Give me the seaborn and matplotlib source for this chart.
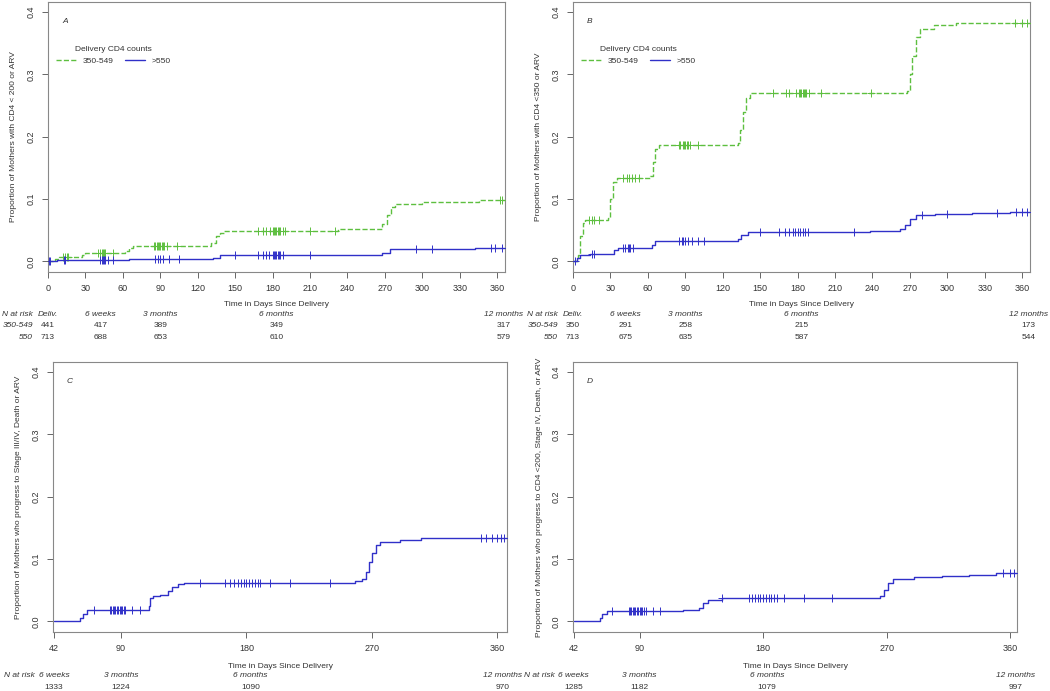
import matplotlib
matplotlib.use("Agg")
import matplotlib.pyplot as plt
import numpy as np
import pandas as pd
import seaborn as sns

GREEN = '#5dbf3f'
BLUE = '#3030c8'

# ---- panel A: CD4 < 200 or ARV ----
a_green_days = [0, 6, 9, 27, 30, 62, 65, 68, 131, 135, 138, 141, 232, 268, 272, 275, 278, 300, 345, 366]
a_green_vals = [0, 0.004, 0.007, 0.010, 0.013, 0.017, 0.021, 0.025, 0.030, 0.040, 0.046, 0.049, 0.052,
                0.060, 0.075, 0.088, 0.092, 0.096, 0.099, 0.099]
a_green_cens = [12, 14, 15, 16, 40, 42, 43, 44, 45, 46, 52, 85, 86, 87, 88, 89, 90, 91, 92, 93, 95, 103,
                168, 172, 175, 178, 180, 181, 182, 183, 184, 185, 186, 188, 190, 210, 230, 362, 364]
a_blue_days = [0, 7, 28, 65, 132, 138, 234, 268, 274, 342, 366]
a_blue_vals = [0, 0.0015, 0.0025, 0.004, 0.006, 0.0097, 0.011, 0.013, 0.0195, 0.021, 0.021]
a_blue_cens = [1, 2, 13, 14, 42, 43, 44, 45, 46, 48, 52, 86, 88, 90, 92, 97, 105, 150, 168, 172, 175,
               177, 180, 181, 182, 183, 184, 185, 186, 188, 210, 295, 308, 355, 358, 364]

# ---- panel B: CD4 < 350 or ARV ----
b_green_days = [0, 4, 6, 8, 10, 28, 30, 32, 35, 62, 64, 66, 69, 132, 134, 136, 139, 142, 268, 270, 272,
                275, 278, 289, 307, 366]
b_green_vals = [0, 0.01, 0.04, 0.062, 0.066, 0.070, 0.100, 0.128, 0.133, 0.137, 0.160, 0.180, 0.187,
                0.190, 0.210, 0.240, 0.262, 0.270, 0.273, 0.300, 0.330, 0.360, 0.372, 0.379, 0.383, 0.383]
b_green_cens = [13, 15, 17, 21, 40, 43, 45, 47, 50, 53, 85, 86, 88, 89, 90, 91, 92, 94, 100, 160, 171,
                173, 179, 181, 182, 183, 184, 185, 186, 187, 189, 199, 239, 354, 360, 364]
b_blue_days = [0, 3, 6, 14, 33, 36, 63, 66, 132, 135, 140, 238, 262, 266, 270, 275, 290, 320, 350, 366]
b_blue_vals = [0, 0.005, 0.010, 0.012, 0.018, 0.022, 0.026, 0.033, 0.036, 0.043, 0.047, 0.049, 0.052,
               0.058, 0.068, 0.074, 0.076, 0.078, 0.079, 0.079]
b_blue_cens = [2, 15, 17, 40, 42, 44, 45, 46, 48, 85, 87, 88, 90, 92, 95, 100, 105, 150, 165, 170, 173,
               176, 178, 180, 182, 184, 186, 188, 225, 280, 300, 340, 355, 360, 364]

# ---- panel C: Stage III/IV, death or ARV ----
c_days = [42, 58, 61, 63, 66, 110, 111, 113, 118, 124, 127, 131, 135, 258, 263, 266, 268, 270, 273, 276,
          290, 305, 367]
c_vals = [0, 0, 0.006, 0.012, 0.018, 0.025, 0.038, 0.041, 0.043, 0.048, 0.055, 0.060, 0.062, 0.064,
          0.068, 0.080, 0.095, 0.110, 0.122, 0.127, 0.130, 0.133, 0.133]
c_cens = [71, 82, 83, 84, 85, 86, 87, 88, 89, 90, 91, 92, 93, 98, 104, 147, 165, 168, 171, 174, 176, 178,
          180, 182, 184, 186, 188, 190, 197, 211, 240, 348, 352, 356, 360, 363, 365]

# ---- panel D: CD4 < 200, stage IV, death or ARV ----
d_days = [42, 58, 61, 63, 66, 122, 133, 136, 140, 150, 240, 265, 268, 271, 275, 290, 310, 330, 350, 365]
d_vals = [0, 0, 0.005, 0.012, 0.016, 0.018, 0.022, 0.030, 0.035, 0.037, 0.038, 0.040, 0.050, 0.062,
          0.068, 0.071, 0.073, 0.075, 0.077, 0.077]
d_cens = [70, 82, 83, 84, 85, 86, 87, 88, 89, 90, 91, 92, 93, 95, 100, 105, 150, 170, 172, 174, 176, 178,
          180, 182, 184, 186, 188, 190, 195, 210, 230, 355, 360, 363]

# ---- numbers at risk ----
ab_risk_days = [0, 42, 90, 183, 365]
ab_risk_names = ['Deliv.', '6 weeks', '3 months', '6 months', '12 months']
a_risk_green = [441, 417, 389, 349, 317]
a_risk_blue = [713, 688, 653, 610, 579]
b_risk_green = [350, 291, 258, 215, 173]
b_risk_blue = [713, 675, 635, 587, 544]
cd_risk_days = [42, 90, 183, 364]
cd_risk_names = ['6 weeks', '3 months', '6 months', '12 months']
c_risk = [1333, 1224, 1090, 970]
d_risk = [1285, 1182, 1079, 997]

sns.set_style('white')
plt.rcParams['font.family'] = ['Liberation Sans', 'DejaVu Sans']
plt.rcParams['font.size'] = 6
TXT = '#333333'
FS = 6


def step_at(days, vals, t):
    idx = np.searchsorted(days, t, side='right') - 1
    return np.asarray(vals)[np.clip(idx, 0, len(vals) - 1)]


def draw_curve(ax, days, vals, cens, color, ls, label):
    df = pd.DataFrame({'t': days, 'p': vals})
    sns.lineplot(data=df, x='t', y='p', color=color, linestyle=ls, drawstyle='steps-post',
                 linewidth=1.0, errorbar=None, label=label, ax=ax)
    cdf = pd.DataFrame({'t': cens, 'p': step_at(days, vals, np.array(cens))})
    sns.scatterplot(data=cdf, x='t', y='p', marker='+', color=color, s=26, linewidth=0.7,
                    legend=False, ax=ax, zorder=3)


def style_axes(ax, xlim, xticks, letter, ylabel):
    ax.set_xlim(xlim)
    ax.set_ylim(-0.017, 0.416)
    ax.set_xticks(xticks)
    ax.set_yticks([0, 0.1, 0.2, 0.3, 0.4])
    ax.set_yticklabels(['0.0', '0.1', '0.2', '0.3', '0.4'], rotation=90, va='center')
    ax.tick_params(direction='out', length=4, width=0.7, colors='#666666', labelcolor=TXT,
                   labelsize=FS + 0.5, pad=5, bottom=True, left=True)
    for s in ax.spines.values():
        s.set_color('#888888')
        s.set_linewidth(0.8)
    ax.set_xlabel('')
    ax.set_ylabel(ylabel, fontsize=FS, color=TXT)
    ax.yaxis.set_label_coords(-0.068, 0.5)
    ax.text(0.037, 0.926, letter, transform=ax.transAxes, fontsize=FS, style='italic', color=TXT,
            ha='center', va='center')


def risk_table(ax, days, names, rows, row_labels, y0, dy, xlab_y, lab_x):
    tr = ax.get_xaxis_transform()
    ax.text(0.5, xlab_y, 'Time in Days Since Delivery', transform=ax.transAxes, ha='center',
            va='center', fontsize=FS, color=TXT)
    ax.text(lab_x, y0, 'N at risk', transform=tr, ha='right', va='center', style='italic',
            fontsize=FS, color=TXT, clip_on=False)
    for d, n in zip(days, names):
        ax.text(d, y0, n, transform=tr, ha='center', va='center', style='italic', fontsize=FS,
                color=TXT, clip_on=False)
    for i, (row, lab) in enumerate(zip(rows, row_labels)):
        y = y0 - dy * (i + 1)
        if lab:
            ax.text(lab_x, y, lab, transform=tr, ha='right', va='center', style='italic',
                    fontsize=FS, color=TXT, clip_on=False)
        for d, v in zip(days, row):
            ax.text(d, y, str(v), transform=tr, ha='center', va='center', fontsize=FS,
                    color=TXT, clip_on=False)


fig = plt.figure(figsize=(10.5, 6.91), dpi=100)
axA = fig.add_axes([0.0457, 0.6064, 0.435, 0.3907])
axB = fig.add_axes([0.5457, 0.6064, 0.435, 0.3907])
axC = fig.add_axes([0.0505, 0.0854, 0.4324, 0.3907])
axD = fig.add_axes([0.5457, 0.0854, 0.4229, 0.3907])

ab_ticks = list(range(0, 361, 30))
cd_ticks = [42, 90, 180, 270, 360]

draw_curve(axA, a_green_days, a_green_vals, a_green_cens, GREEN, '--', '350-549')
draw_curve(axA, a_blue_days, a_blue_vals, a_blue_cens, BLUE, '-', '>550')
style_axes(axA, (0, 366), ab_ticks, 'A', 'Proportion of Mothers with CD4 < 200 or ARV')

draw_curve(axB, b_green_days, b_green_vals, b_green_cens, GREEN, '--', '350-549')
draw_curve(axB, b_blue_days, b_blue_vals, b_blue_cens, BLUE, '-', '>550')
style_axes(axB, (0, 366), ab_ticks, 'B', 'Proportion of Mothers with CD4 <350 or ARV')

draw_curve(axC, c_days, c_vals, c_cens, BLUE, '-', None)
style_axes(axC, (41.3, 367), cd_ticks, 'C',
           'Proportion of Mothers who progress to Stage III/IV, Death or ARV')

draw_curve(axD, d_days, d_vals, d_cens, BLUE, '-', None)
style_axes(axD, (41.5, 365), cd_ticks, 'D',
           'Proportion of Mothers who progress to CD4 <200, Stage IV, Death, or ARV')

for ax in (axA, axB):
    leg = ax.legend(title='Delivery CD4 counts', ncol=2, frameon=False, loc='upper left',
                    bbox_to_anchor=(0.005, 0.86), fontsize=FS, title_fontsize=FS,
                    handlelength=2.4, columnspacing=1.4, borderpad=0.2)
    for t in leg.get_texts():
        t.set_color(TXT)
    leg.get_title().set_color(TXT)

risk_table(axA, ab_risk_days, ab_risk_names, [a_risk_green, a_risk_blue], ['350-549', '550'],
           -0.159, 0.041, -0.122, -12)
risk_table(axB, ab_risk_days, ab_risk_names, [b_risk_green, b_risk_blue], ['350-549', '550'],
           -0.159, 0.041, -0.122, -12)
risk_table(axC, cd_risk_days, cd_risk_names, [c_risk], [None], -0.163, 0.041, -0.126, 28)
risk_table(axD, cd_risk_days, cd_risk_names, [d_risk], [None], -0.163, 0.041, -0.126, 28)

fig.savefig('out.png', dpi=100, facecolor='white')
